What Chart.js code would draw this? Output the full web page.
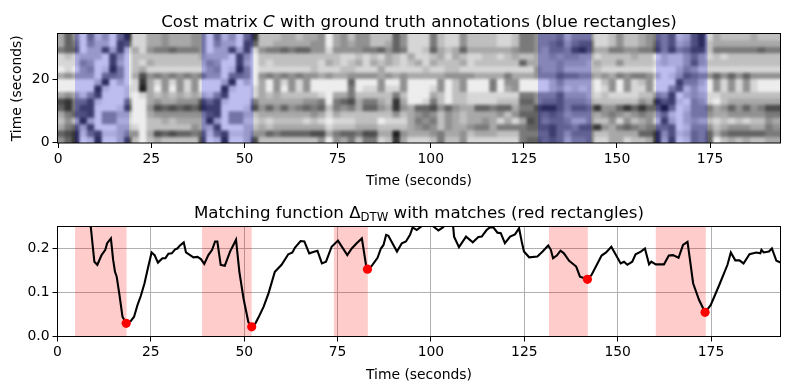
<!DOCTYPE html>
<html>
<head>
<meta charset="utf-8">
<title>Cost matrix and matching function</title>
<script src="https://cdn.jsdelivr.net/npm/chart.js@4"></script>
<style>
  body { margin: 0; background: #fff; }
  canvas { position: absolute; left: 0; }
  #costChart { top: 0; }
  #matchChart { top: 195px; }
</style>
</head>
<body>
<canvas id="costChart" width="789" height="195"></canvas>
<canvas id="matchChart" width="789" height="194"></canvas>
<script>
// Cost matrix: one string per row, top row first,
// one digit per 2 second column (0 = black, 9 = white)
const costRows = [
    '63594869418866566655 9486941 777667665965 75577735888478857777 8874455547555887577 6545387318677776777',
    '63495779238866566655 9577923 776666655965 65577635888478857777 8874455436433887577 6535376317666666666',
    '43397727286854434445 9772728 544343355855 55443534887367636666 6654456445213664455 4425254227444444344',
    '87877792697777777776 7779269 777777777778 87878678688768678877 8767766565566877776 7797886468787777777',
    '88856992797867777777 5699279 787777778678 76867678768677768777 7773666656667677577 7787886367777777777',
    '98965981597688888888 6598159 888888878887 78886888887887788888 8888856657777788888 8899975688888888888',
    '65666944596254545454 6694459 545454556566 55556565666665555666 6466655534455656454 4579863455353535555',
    '99999719798168585859 9971979 695858599999 39995995999959759994 9559999757777975958 7599925579585858999',
    '99999189988069595859 9918998 695958599999 49885885999859759994 9659999768787985958 8599538689585858999',
    '65685299989867676767 8529998 676777778966 47777747999679778888 8884455536667878888 7756297678877777777',
    '21442899949965665552 4289994 666666554943 26446716998479778888 7773354435556777777 5613289568976666666',
    '31422999829952323231 2299982 535354343745 46335615633253566334 3364421135334155313 1330498554653535422',
    '64332955779965555555 3295577 666666656867 77777757654575676666 5753334346555654565 4564897555665555544',
    '75717955889977676666 1795588 787777878988 87779888645475676656 8686235445775775857 6582797677878787756',
    '64372999778977777756 7299977 676666666877 76667777654575665446 4444333244533156434 5444398555765556645',
    '32184288755962323343 8428875 534333322643 34226605666546657666 7774444246444776666 3316387453643333344',
    '53198199727976777772 9819972 777777775956 47448716888747758888 8884334347554886687 7617298453976767766'
].map(row => row.replace(/ /g, ''));
const columnLabels = costRows[0].split('').map((d, i) => i * 2);

// Annotated sections in the cost matrix (seconds)
const annotationStarts = [4.5, 38.5, 128.8, 160.5];
const annotationEnds = [19, 52.4, 143.1, 174.3];

// Matches in the matching function (seconds)
const matchStarts = [4.7, 38.7, 74, 131.6, 160.2];
const matchEnds = [18.5, 52, 83.1, 142, 173.6];
const peakTimes = [18.4, 52, 83, 141.9, 173.4];
const peakValues = [0.03, 0.022, 0.153, 0.13, 0.055];

// Matching function
const deltaTimes = [
    8.3, 8.9, 9.87, 10.67, 11.8, 12.8, 13.3, 14.3, 14.9, 15.4, 15.85, 16.6, 17.4, 18.4, 19.6, 20.5, 21.4, 22.3, 23.3, 24.2,
    25.2, 26, 26.9, 28.1, 28.9, 29.7, 30.6, 31.5, 32.1, 32.8, 33.8, 34.4, 35.5, 36.4, 37.5, 38.4, 39.3, 40.4, 41.4, 42.2,
    42.8, 43.7, 44.8, 46.2, 47.1, 47.8, 48.7, 49.8, 51.1, 52, 53, 53.8, 55.2, 56.5, 58.2, 60, 61.8, 62.9, 63.6, 65.1,
    66.1, 67.4, 68.5, 69.6, 70.8, 71.9, 73.4, 75.1, 77.6, 78.8, 80.1, 81.5, 82.6, 83, 84.1, 85.7, 86.6, 87.3, 88, 88.6,
    90.9, 92.2, 93.3, 94.4, 95.1, 96.2, 98, 99.8, 102, 103.2, 104.3, 105.9, 106.2, 107.5, 109.4, 111.2, 112.7, 113.6, 114.9, 115.8,
    116.7, 117.8, 118.7, 119.8, 121.2, 122.5, 123.6, 124.3, 124.9, 126.3, 128.5, 129.9, 131.4, 132.1, 132.7, 133.7, 134.7, 135.6, 137, 138.9,
    139.9, 141.9, 143, 145.7, 146.9, 148.3, 150.8, 151.7, 152.6, 153.9, 154.8, 156.2, 157.3, 158.4, 159, 160.2, 162.4, 163.7, 164.8, 166.3,
    167.5, 168.7, 169.3, 170.2, 171.8, 173.4, 174.9, 177.2, 179.4, 180.3, 181.5, 182.6, 183.7, 185.3, 187.1, 188.2, 188.5, 189.1, 190.5, 191.3,
    192.5, 193.6
];
const deltaValues = [
    0.3, 0.25, 0.17, 0.163, 0.185, 0.197, 0.212, 0.223, 0.174, 0.147, 0.136, 0.094, 0.045, 0.03, 0.035, 0.045, 0.071, 0.092, 0.121, 0.155,
    0.191, 0.185, 0.168, 0.178, 0.178, 0.188, 0.189, 0.198, 0.2, 0.207, 0.214, 0.191, 0.185, 0.18, 0.181, 0.176, 0.165, 0.185, 0.197, 0.216,
    0.216, 0.163, 0.161, 0.193, 0.208, 0.22, 0.147, 0.087, 0.033, 0.022, 0.03, 0.043, 0.068, 0.098, 0.147, 0.163, 0.187, 0.191, 0.202, 0.217,
    0.216, 0.189, 0.192, 0.195, 0.166, 0.17, 0.204, 0.218, 0.185, 0.2, 0.212, 0.223, 0.163, 0.153, 0.16, 0.179, 0.2, 0.208, 0.231, 0.229,
    0.193, 0.212, 0.216, 0.231, 0.248, 0.242, 0.254, 0.256, 0.241, 0.248, 0.258, 0.254, 0.227, 0.203, 0.227, 0.214, 0.226, 0.227, 0.242, 0.248,
    0.248, 0.236, 0.235, 0.212, 0.227, 0.232, 0.246, 0.216, 0.193, 0.18, 0.182, 0.193, 0.207, 0.197, 0.178, 0.184, 0.195, 0.189, 0.172, 0.159,
    0.136, 0.13, 0.14, 0.184, 0.191, 0.204, 0.166, 0.17, 0.163, 0.17, 0.187, 0.193, 0.2, 0.164, 0.17, 0.164, 0.164, 0.184, 0.185, 0.179,
    0.208, 0.215, 0.178, 0.121, 0.083, 0.055, 0.071, 0.117, 0.163, 0.191, 0.173, 0.173, 0.166, 0.187, 0.191, 0.189, 0.197, 0.191, 0.193, 0.2,
    0.172, 0.168
];

const FONT = '"DejaVu Sans", sans-serif';
const TICK_SIZE = 13.9;
const TITLE_SIZE = 16.67;

// Digit to grey level
function digitColor(d) {
    const g = Math.round(30 + Number(d) * 23);
    return `rgb(${g},${g},${g})`;
}

// One dataset of floating bars per row of the matrix
const rowHeight = 34.7 / costRows.length;
const costDatasets = costRows.map((row, r) => {
    const top = 34.5 - r * rowHeight;
    return {
        data: columnLabels.map(() => [top - rowHeight, top]),
        backgroundColor: row.split('').map(digitColor),
        borderWidth: 0,
        inflateAmount: 0.5,
        grouped: false,
        barPercentage: 1,
        categoryPercentage: 1
    };
});

// Shared axis settings (matplotlib look)
function tickOptions(step) {
    return {
        stepSize: step,
        includeBounds: false,
        autoSkip: false,
        maxRotation: 0,
        padding: 3,
        color: '#000',
        font: { family: FONT, size: TICK_SIZE }
    };
}
function axisTitle(text, padding) {
    return { display: true, text: text, color: '#000', padding: padding, font: { family: FONT, size: TICK_SIZE } };
}

// Title in several pieces because of the italic C and the subscript
function drawTitle(chart, parts, baseline) {
    const ctx = chart.ctx;
    ctx.save();
    ctx.fillStyle = '#000';
    ctx.textBaseline = 'alphabetic';
    ctx.textAlign = 'left';
    let width = 0;
    parts.forEach(p => {
        ctx.font = p.font;
        width += ctx.measureText(p.text).width;
    });
    let x = (chart.chartArea.left + chart.chartArea.right) / 2 - width / 2;
    parts.forEach(p => {
        ctx.font = p.font;
        ctx.fillText(p.text, x, baseline + (p.drop || 0));
        x += ctx.measureText(p.text).width;
    });
    ctx.restore();
}

// Black box round the plot area
const framePlugin = {
    id: 'frame',
    afterDraw(chart) {
        const a = chart.chartArea;
        const ctx = chart.ctx;
        ctx.save();
        ctx.strokeStyle = '#000';
        ctx.lineWidth = 1;
        ctx.strokeRect(a.left, a.top, a.right - a.left, a.bottom - a.top);
        ctx.restore();
        drawTitle(chart, chart.options.plugins.frame.parts, chart.options.plugins.frame.baseline);
    }
};

// Translucent rectangles placed through the x scale
function drawBands(chart, scale, starts, ends, color) {
    const a = chart.chartArea;
    const ctx = chart.ctx;
    ctx.save();
    ctx.fillStyle = color;
    starts.forEach((s, i) => {
        const x0 = scale.getPixelForValue(s);
        const x1 = scale.getPixelForValue(ends[i]);
        ctx.fillRect(x0, a.top, x1 - x0, a.bottom - a.top);
    });
    ctx.restore();
}

// Top chart: soften the cells like an interpolated image, then add the blue rectangles
const costPlugin = {
    id: 'costBands',
    afterDatasetsDraw(chart) {
        const a = chart.chartArea;
        const ctx = chart.ctx;
        const w = a.right - a.left;
        const h = a.bottom - a.top;
        ctx.save();
        ctx.beginPath();
        ctx.rect(a.left, a.top, w, h);
        ctx.clip();
        ctx.filter = 'blur(1.7px)';
        ctx.drawImage(chart.canvas, a.left, a.top, w, h, a.left, a.top, w, h);
        ctx.filter = 'none';
        ctx.restore();
        drawBands(chart, chart.scales.xTime, annotationStarts, annotationEnds, 'rgba(0,0,255,0.2)');
    }
};

// Bottom chart: red rectangles under the curve
const matchPlugin = {
    id: 'matchBands',
    beforeDatasetsDraw(chart) {
        drawBands(chart, chart.scales.x, matchStarts, matchEnds, 'rgba(255,0,0,0.2)');
    }
};

const costChart = new Chart(document.getElementById('costChart').getContext('2d'), {
    type: 'bar',
    data: { labels: columnLabels, datasets: costDatasets },
    plugins: [costPlugin, framePlugin],
    options: {
        responsive: false,
        animation: false,
        layout: { padding: { top: 33.5, right: 8.5, bottom: 5.5 } },
        plugins: {
            legend: { display: false },
            tooltip: { enabled: false },
            title: { display: false },
            frame: {
                baseline: 27,
                parts: [
                    { text: 'Cost matrix ', font: `${TITLE_SIZE}px ${FONT}` },
                    { text: 'C', font: `italic ${TITLE_SIZE}px ${FONT}` },
                    { text: ' with ground truth annotations (blue rectangles)', font: `${TITLE_SIZE}px ${FONT}` }
                ]
            }
        },
        scales: {
            x: { display: false, offset: true },
            xTime: {
                type: 'linear',
                axis: 'x',
                position: 'bottom',
                offset: false,
                min: -0.2,
                max: 193.9,
                ticks: tickOptions(25),
                grid: { offset: false, drawOnChartArea: false, tickLength: 5, tickColor: '#000', tickWidth: 1 },
                border: { display: false },
                title: axisTitle('Time (seconds)', { top: 0, bottom: 0 }),
                afterFit(s) { s.height = 46.5; }
            },
            y: {
                min: -0.2,
                max: 34.5,
                ticks: tickOptions(20),
                grid: { drawOnChartArea: false, tickLength: 5, tickColor: '#000', tickWidth: 1 },
                border: { display: false },
                title: axisTitle('Time (seconds)', { top: 9, bottom: 0 }),
                afterFit(s) { s.width = 57.5; }
            }
        }
    }
});

const matchChart = new Chart(document.getElementById('matchChart').getContext('2d'), {
    type: 'scatter',
    data: {
        datasets: [{
            data: peakTimes.map((t, i) => ({ x: t, y: peakValues[i] })),
            backgroundColor: '#ff0000',
            borderWidth: 0,
            pointRadius: 4.6,
            order: 1
        }, {
            data: deltaTimes.map((t, i) => ({ x: t, y: deltaValues[i] })),
            showLine: true,
            borderColor: '#000',
            borderWidth: 2.1,
            pointRadius: 0,
            tension: 0,
            order: 2
        }]
    },
    plugins: [matchPlugin, framePlugin],
    options: {
        responsive: false,
        animation: false,
        layout: { padding: { top: 31.5, right: 8.5, bottom: 5.5 } },
        plugins: {
            legend: { display: false },
            tooltip: { enabled: false },
            title: { display: false },
            frame: {
                baseline: 23,
                parts: [
                    { text: 'Matching function \u0394', font: `${TITLE_SIZE}px ${FONT}` },
                    { text: 'DTW', font: `11.7px ${FONT}`, drop: 3 },
                    { text: ' with matches (red rectangles)', font: `${TITLE_SIZE}px ${FONT}` }
                ]
            }
        },
        scales: {
            x: {
                type: 'linear',
                min: 0,
                max: 193.6,
                ticks: tickOptions(25),
                grid: { color: '#b0b0b0', lineWidth: 1, tickLength: 5, tickColor: '#000', tickWidth: 1 },
                border: { display: false },
                title: axisTitle('Time (seconds)', { top: 0, bottom: 0 }),
                afterFit(s) { s.height = 47; }
            },
            y: {
                min: 0,
                max: 0.25,
                ticks: Object.assign(tickOptions(0.1), { callback: v => v.toFixed(1) }),
                grid: { color: '#b0b0b0', lineWidth: 1, tickLength: 5, tickColor: '#000', tickWidth: 1 },
                border: { display: false },
                afterFit(s) { s.width = 57.5; }
            }
        }
    }
});
</script>
</body>
</html>
